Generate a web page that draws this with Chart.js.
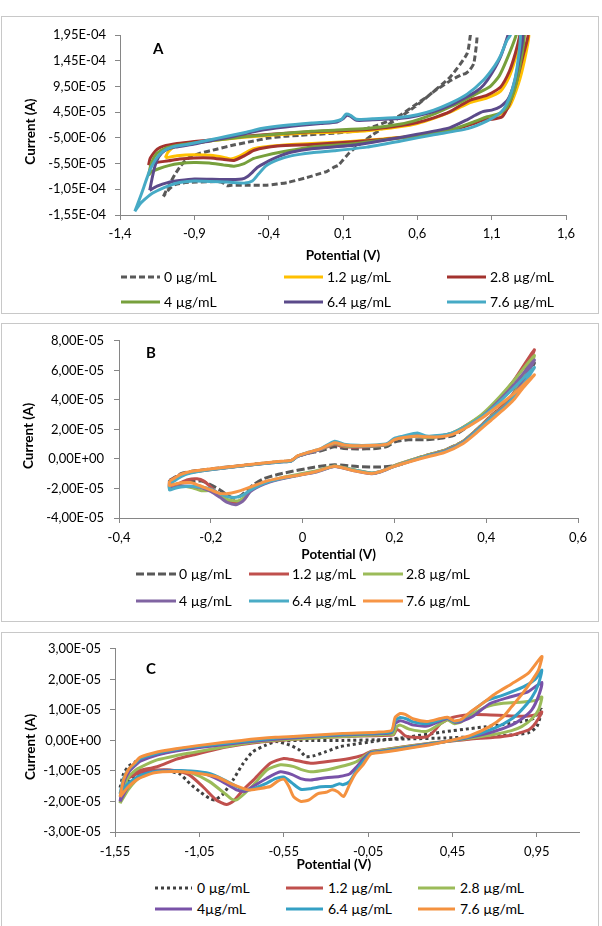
<!DOCTYPE html>
<html>
<head>
<meta charset="utf-8">
<script src="https://cdn.jsdelivr.net/npm/chart.js@4.4.1/dist/chart.umd.min.js"></script>
<style>
  body { margin: 0; background: #fff; }
  #page { position: relative; width: 602px; height: 926px; overflow: hidden; font-family: Lato, sans-serif; color: #000; }
  .panel { position: absolute; left: 1px; width: 598px; border: 1px solid #c8c8c8; box-sizing: border-box; background: #fff; }
  .box { position: absolute; left: 0; width: 602px; }
  .tag { position: absolute; font: bold 15px Lato, sans-serif; line-height: 15px; }
  .leg { position: absolute; display: flex; align-items: center; font-size: 14px; line-height: 18px; white-space: nowrap; }
  .leg svg { display: block; }
</style>
</head>
<body>
<div id="page">
  <div class="panel" style="top:16px;height:298px"></div>
  <div class="panel" style="top:323px;height:299px"></div>
  <div class="panel" style="top:632px;height:300px"></div>

  <div class="box" style="top:16px;height:250px"><canvas id="chartA" width="602" height="250"></canvas></div>
  <div class="box" style="top:323px;height:242px"><canvas id="chartB" width="602" height="242"></canvas></div>
  <div class="box" style="top:632px;height:243px"><canvas id="chartC" width="602" height="243"></canvas></div>

  <div class="tag" style="left:153px;top:41px">A</div>
  <div class="tag" style="left:146px;top:345px">B</div>
  <div class="tag" style="left:146px;top:661px">C</div>
</div>

<script>
// ---------- DATA (potential in V, current in units of 1E-05 A) ----------

// panel A
const A_0 = [[-1.108,-11.9],[-1.085,-10.5],[-1.063,-9.3],[-1.03,-7.6],[-0.996,-6.1],[-0.96,-4.9],[-0.928,-4.2],[-0.861,-3.5],[-0.75,-2.7],[-0.636,-1.9],[-0.5,-1.1],[-0.411,-0.6],[-0.3,-0.2],[-0.187,0.0],[0.038,0.4],[0.2,0.9],[0.308,1.7],[0.4,2.7],[0.487,3.95],[0.6,6.2],[0.666,7.5],[0.823,11.4],[0.935,15.9],[0.957,19.5],[0.98,23],
  [1.002,19.5],[0.98,14],[0.95,12.6],[0.923,12.0],[0.9,11.8],[0.83,10.75],[0.711,8.5],[0.6,5.9],[0.487,3.6],[0.4,2.0],[0.3,0.1],[0.2,-2.0],[0.14,-3.5],[0.1,-4.8],[0.07,-5.8],[0.04,-6.2],[-0.007,-7.0],[-0.05,-7.4],[-0.142,-8.2],[-0.276,-9.2],[-0.411,-9.7],[-0.524,-9.7],[-0.65,-9.7],[-0.681,-9.8],[-0.71,-9.2],[-0.75,-9.0],[-0.883,-9.1],[-0.96,-9.2],[-1.03,-9.6],[-1.07,-10.5],[-1.108,-11.9]];
const A_1_2 = [[-1.095,-4.4],[-1.08,-3.4],[-1.05,-2.5],[-1.0,-1.9],[-0.9,-1.5],[-0.8,-1.1],[-0.565,-0.4],[-0.34,0.1],[-0.11,0.5],[0.04,0.6],[0.26,0.9],[0.49,1.7],[0.6,2.3],[0.71,3.3],[0.82,4.5],[0.9,5.6],[0.96,6.4],[1.07,7.3],[1.16,8.6],[1.22,11.5],[1.26,15],[1.3,19.5],[1.32,24],
  [1.35,19.5],[1.32,14.5],[1.28,10],[1.22,5.6],[1.15,4.0],[1.0,2.7],[0.82,0.9],[0.6,-0.1],[0.37,-0.7],[0.15,-1.2],[-0.11,-1.6],[-0.34,-2.0],[-0.5,-2.6],[-0.55,-3.3],[-0.6,-4.1],[-0.655,-4.6],[-0.7,-4.3],[-0.79,-3.9],[-0.903,-3.8],[-1.016,-4.0],[-1.095,-4.4]];
const A_2_8 = [[-1.208,-5.8],[-1.197,-4.5],[-1.175,-3.5],[-1.15,-2.7],[-1.107,-2.1],[-1.016,-1.6],[-0.9,-1.2],[-0.79,-0.9],[-0.565,-0.2],[-0.34,0.3],[-0.11,0.7],[0.04,0.85],[0.26,1.1],[0.49,1.9],[0.6,2.5],[0.71,3.4],[0.82,4.6],[0.89,5.8],[0.96,6.9],[1.07,7.8],[1.16,9.4],[1.22,12.5],[1.26,16],[1.29,19.5],[1.32,24],
  [1.345,19.5],[1.315,15.9],[1.27,10.7],[1.215,5.8],[1.17,3.6],[1.1,3.1],[1.047,3.0],[0.98,2.3],[0.82,0.9],[0.6,-0.1],[0.37,-0.8],[0.15,-1.3],[-0.11,-1.8],[-0.34,-2.1],[-0.497,-2.9],[-0.565,-4.0],[-0.633,-4.9],[-0.7,-4.7],[-0.79,-4.4],[-0.903,-4.4],[-1.0,-4.6],[-1.073,-4.95],[-1.174,-5.4],[-1.208,-5.8]];
const A_4 = [[-1.208,-7.8],[-1.195,-6.0],[-1.175,-4.5],[-1.152,-3.5],[-1.1,-2.6],[-1.02,-2.0],[-0.9,-1.5],[-0.79,-1.05],[-0.565,-0.3],[-0.34,0.25],[-0.11,0.8],[0.04,1.0],[0.26,1.3],[0.49,2.2],[0.6,3.0],[0.71,4.1],[0.82,5.5],[0.9,6.6],[0.98,7.8],[1.09,9.5],[1.15,11.5],[1.2,14.6],[1.265,19.5],[1.29,23],
  [1.32,19.5],[1.29,13.5],[1.25,8.5],[1.2,5.3],[1.15,4.2],[1.07,3.6],[0.96,2.4],[0.82,1.0],[0.6,-0.1],[0.37,-0.9],[0.15,-1.7],[-0.11,-2.3],[-0.34,-3.4],[-0.42,-3.9],[-0.5,-4.5],[-0.565,-5.5],[-0.633,-6.0],[-0.7,-5.8],[-0.8,-5.4],[-0.903,-5.3],[-1.0,-5.5],[-1.073,-5.9],[-1.14,-6.5],[-1.19,-7.1],[-1.208,-7.8]];
const A_6_4 = [[-1.2,-10.7],[-1.185,-8.5],[-1.165,-6.0],[-1.14,-4.2],[-1.1,-3.0],[-1.03,-2.3],[-0.9,-1.7],[-0.78,-1.0],[-0.65,-0.3],[-0.5,0.7],[-0.35,1.4],[-0.2,1.9],[-0.05,2.3],[0.06,2.6],[0.1,3.2],[0.125,3.9],[0.15,3.7],[0.19,2.9],[0.3,3.0],[0.49,3.3],[0.6,3.8],[0.71,4.6],[0.82,5.8],[0.935,7.5],[1.0,8.6],[1.047,9.8],[1.1,12.0],[1.16,15.3],[1.21,19.5],[1.255,24],
  [1.31,19.5],[1.28,14],[1.25,10],[1.21,7.0],[1.16,5.6],[1.1,4.9],[1.04,4.6],[0.99,3.9],[0.94,3.1],[0.82,1.5],[0.6,0.2],[0.37,-1.0],[0.15,-2.0],[-0.11,-2.6],[-0.25,-3.3],[-0.34,-4.2],[-0.42,-5.3],[-0.475,-6.2],[-0.51,-7.2],[-0.542,-8.0],[-0.58,-8.5],[-0.7,-8.6],[-0.9,-8.5],[-1.0,-8.8],[-1.08,-9.2],[-1.15,-9.9],[-1.2,-10.7]];
const A_7_6 = [[-1.3,-14.8],[-1.27,-12.5],[-1.24,-10.1],[-1.21,-7.6],[-1.186,-6.0],[-1.15,-4.3],[-1.11,-3.1],[-1.05,-2.3],[-0.95,-1.8],[-0.8,-0.9],[-0.68,-0.2],[-0.55,0.6],[-0.45,1.3],[-0.3,1.9],[-0.11,2.4],[0.04,2.7],[0.09,3.1],[0.12,4.1],[0.15,3.9],[0.19,3.1],[0.3,3.2],[0.49,3.5],[0.6,4.0],[0.71,4.9],[0.82,6.2],[0.935,8.0],[1.047,10.8],[1.12,13.5],[1.16,15.5],[1.2,18.3],[1.226,19.5],[1.26,23],
  [1.293,19.5],[1.27,13],[1.24,9],[1.2,6],[1.16,4.4],[1.07,2.8],[0.94,1.3],[0.71,0.1],[0.49,-1.1],[0.26,-2.3],[0.04,-3.0],[-0.11,-3.4],[-0.25,-4.0],[-0.34,-4.8],[-0.42,-6.0],[-0.47,-7.6],[-0.51,-8.9],[-0.56,-9.3],[-0.68,-9.1],[-0.9,-8.9],[-1.0,-9.2],[-1.07,-9.8],[-1.13,-10.5],[-1.19,-11.4],[-1.24,-12.6],[-1.27,-13.5],[-1.3,-14.8]];

// panel B
const B_0 = [[-0.29,-1.45],[-0.265,-1.0],[-0.244,-0.85],[-0.193,-0.65],[-0.12,-0.4],[-0.047,-0.18],[-0.025,-0.12],[-0.01,0.18],[0.013,0.38],[0.04,0.55],[0.07,0.82],[0.09,0.7],[0.12,0.68],[0.16,0.7],[0.185,0.85],[0.2,1.15],[0.23,1.3],[0.27,1.3],[0.3,1.4],[0.33,1.6],[0.36,2.2],[0.39,2.9],[0.42,3.7],[0.46,5.0],[0.505,6.5],
  [0.48,5.2],[0.46,4.4],[0.44,3.7],[0.41,2.9],[0.38,2.0],[0.35,1.2],[0.31,0.6],[0.26,0.15],[0.21,-0.4],[0.17,-0.55],[0.12,-0.52],[0.07,-0.4],[0.025,-0.56],[-0.047,-1.0],[-0.084,-1.33],[-0.105,-1.7],[-0.12,-2.1],[-0.135,-2.5],[-0.149,-2.67],[-0.164,-2.45],[-0.18,-2.1],[-0.2,-1.75],[-0.22,-1.5],[-0.25,-1.55],[-0.275,-1.7],[-0.29,-1.7],[-0.29,-1.45]];
const B_1_2 = [[-0.29,-1.5],[-0.265,-1.05],[-0.244,-0.88],[-0.193,-0.68],[-0.12,-0.42],[-0.047,-0.18],[-0.025,-0.12],[-0.01,0.2],[0.013,0.42],[0.04,0.65],[0.07,1.0],[0.085,0.85],[0.1,0.8],[0.14,0.82],[0.18,0.95],[0.2,1.3],[0.22,1.45],[0.25,1.55],[0.27,1.45],[0.3,1.55],[0.325,1.75],[0.35,2.15],[0.39,2.95],[0.42,3.8],[0.46,5.3],[0.505,7.4],
  [0.48,5.6],[0.46,4.5],[0.44,3.7],[0.41,2.9],[0.38,2.0],[0.35,1.2],[0.31,0.6],[0.26,0.15],[0.2,-0.45],[0.17,-0.85],[0.15,-0.98],[0.11,-0.75],[0.07,-0.5],[0.03,-0.85],[-0.01,-1.1],[-0.05,-1.35],[-0.084,-1.65],[-0.113,-2.1],[-0.127,-2.75],[-0.142,-3.0],[-0.164,-2.85],[-0.18,-2.5],[-0.2,-1.9],[-0.215,-1.5],[-0.23,-1.35],[-0.25,-1.4],[-0.265,-1.6],[-0.28,-1.85],[-0.29,-1.9],[-0.29,-1.5]];
const B_2_8 = [[-0.29,-1.6],[-0.265,-1.1],[-0.244,-0.9],[-0.193,-0.68],[-0.12,-0.42],[-0.047,-0.18],[-0.025,-0.12],[-0.01,0.2],[0.013,0.42],[0.04,0.65],[0.07,1.05],[0.09,0.88],[0.12,0.85],[0.16,0.88],[0.185,0.98],[0.2,1.3],[0.22,1.45],[0.25,1.55],[0.27,1.45],[0.3,1.55],[0.325,1.75],[0.35,2.15],[0.39,3.0],[0.42,3.9],[0.46,5.3],[0.505,7.0],
  [0.48,5.4],[0.46,4.4],[0.44,3.6],[0.41,2.85],[0.38,2.0],[0.35,1.2],[0.31,0.6],[0.26,0.15],[0.2,-0.45],[0.17,-0.85],[0.15,-0.95],[0.11,-0.72],[0.07,-0.48],[0.03,-0.8],[-0.01,-1.05],[-0.05,-1.3],[-0.084,-1.6],[-0.113,-2.05],[-0.127,-2.6],[-0.142,-2.85],[-0.164,-2.75],[-0.18,-2.45],[-0.2,-2.15],[-0.22,-2.15],[-0.24,-1.95],[-0.265,-1.85],[-0.28,-1.95],[-0.29,-2.05],[-0.29,-1.6]];
const B_4 = [[-0.29,-1.65],[-0.265,-1.15],[-0.244,-0.92],[-0.193,-0.7],[-0.12,-0.43],[-0.047,-0.2],[-0.025,-0.14],[-0.01,0.18],[0.013,0.4],[0.04,0.65],[0.07,1.1],[0.09,0.92],[0.12,0.88],[0.16,0.9],[0.185,1.0],[0.2,1.35],[0.22,1.5],[0.25,1.6],[0.27,1.5],[0.3,1.55],[0.325,1.7],[0.35,2.05],[0.39,2.85],[0.42,3.7],[0.46,5.0],[0.505,6.7],
  [0.48,5.3],[0.46,4.3],[0.44,3.55],[0.41,2.8],[0.38,1.95],[0.35,1.15],[0.31,0.55],[0.26,0.1],[0.2,-0.5],[0.17,-0.88],[0.15,-1.0],[0.11,-0.78],[0.07,-0.52],[0.03,-0.88],[-0.01,-1.12],[-0.05,-1.38],[-0.084,-1.7],[-0.113,-2.2],[-0.13,-2.85],[-0.145,-3.1],[-0.164,-2.95],[-0.18,-2.6],[-0.2,-2.2],[-0.22,-1.95],[-0.245,-1.85],[-0.265,-1.85],[-0.28,-1.95],[-0.29,-2.0],[-0.29,-1.65]];
const B_6_4 = [[-0.29,-1.7],[-0.265,-1.2],[-0.244,-0.95],[-0.193,-0.7],[-0.12,-0.43],[-0.047,-0.2],[-0.025,-0.14],[-0.01,0.2],[0.013,0.45],[0.04,0.7],[0.07,1.2],[0.09,1.0],[0.12,0.92],[0.16,0.95],[0.185,1.05],[0.2,1.4],[0.22,1.55],[0.25,1.75],[0.27,1.55],[0.3,1.6],[0.325,1.75],[0.35,2.1],[0.39,2.85],[0.42,3.6],[0.46,4.8],[0.505,6.2],
  [0.48,5.0],[0.46,4.2],[0.44,3.5],[0.41,2.75],[0.38,1.9],[0.35,1.1],[0.31,0.5],[0.26,0.1],[0.2,-0.5],[0.17,-0.85],[0.15,-0.95],[0.11,-0.75],[0.07,-0.5],[0.03,-0.85],[-0.01,-1.1],[-0.05,-1.35],[-0.084,-1.65],[-0.113,-2.1],[-0.13,-2.45],[-0.145,-2.6],[-0.164,-2.55],[-0.18,-2.35],[-0.2,-2.05],[-0.22,-1.9],[-0.245,-1.85],[-0.265,-1.9],[-0.28,-2.0],[-0.29,-2.1],[-0.29,-1.7]];
const B_7_6 = [[-0.29,-1.5],[-0.265,-1.05],[-0.244,-0.85],[-0.193,-0.65],[-0.12,-0.4],[-0.047,-0.16],[-0.025,-0.1],[-0.01,0.22],[0.013,0.45],[0.04,0.7],[0.07,1.1],[0.09,0.95],[0.12,0.9],[0.16,0.92],[0.185,1.0],[0.2,1.3],[0.22,1.45],[0.25,1.55],[0.27,1.5],[0.3,1.5],[0.325,1.65],[0.35,2.0],[0.39,2.75],[0.42,3.45],[0.46,4.4],[0.505,5.7],
  [0.48,4.8],[0.46,4.0],[0.44,3.4],[0.41,2.6],[0.38,1.8],[0.35,1.05],[0.31,0.45],[0.26,0.05],[0.2,-0.5],[0.17,-0.85],[0.15,-0.98],[0.11,-0.78],[0.07,-0.5],[0.03,-0.85],[-0.01,-1.1],[-0.05,-1.3],[-0.084,-1.55],[-0.113,-1.9],[-0.135,-2.15],[-0.155,-2.3],[-0.178,-2.35],[-0.2,-2.1],[-0.225,-1.8],[-0.244,-1.6],[-0.265,-1.62],[-0.28,-1.72],[-0.29,-1.8],[-0.29,-1.5]];

// panel C
const C_0 = [[-1.52,-1.55],[-1.5,-1.1],[-1.47,-0.85],[-1.43,-0.7],[-1.4,-0.6],[-1.3,-0.45],[-1.19,-0.33],[-1.0,-0.18],[-0.8,-0.08],[-0.6,-0.02],[-0.4,0.0],[-0.2,0.0],[0.0,0.02],[0.2,0.05],[0.4,0.08],[0.6,0.12],[0.8,0.18],[0.9,0.25],[0.95,0.45],[0.98,1.02],
  [0.93,0.72],[0.86,0.62],[0.75,0.52],[0.65,0.45],[0.56,0.39],[0.4,0.28],[0.2,0.12],[0.0,-0.02],[-0.16,-0.15],[-0.22,-0.21],[-0.3,-0.37],[-0.37,-0.5],[-0.42,-0.53],[-0.456,-0.32],[-0.515,-0.15],[-0.594,-0.04],[-0.653,-0.15],[-0.733,-0.37],[-0.79,-0.75],[-0.851,-1.3],[-0.91,-1.76],[-0.96,-1.95],[-0.99,-1.9],[-1.048,-1.68],[-1.107,-1.41],[-1.17,-1.09],[-1.3,-0.98],[-1.4,-1.1],[-1.47,-1.3],[-1.52,-1.55]];
const C_1_2 = [[-1.49,-1.24],[-1.47,-1.15],[-1.43,-1.05],[-1.4,-0.98],[-1.3,-0.86],[-1.19,-0.62],[-1.09,-0.48],[-0.89,-0.22],[-0.7,-0.06],[-0.5,0.03],[-0.3,0.1],[-0.1,0.14],[0.08,0.17],[0.1,0.18],[0.12,0.36],[0.14,0.3],[0.17,0.15],[0.22,0.1],[0.3,0.12],[0.34,0.3],[0.38,0.55],[0.45,0.75],[0.55,0.84],[0.65,0.84],[0.8,0.8],[0.9,0.8],[0.95,0.85],[0.98,0.93],
  [0.96,0.72],[0.93,0.48],[0.9,0.34],[0.85,0.25],[0.8,0.17],[0.7,0.1],[0.55,0.04],[0.41,-0.04],[0.31,-0.1],[0.12,-0.24],[0.02,-0.32],[-0.034,-0.36],[-0.08,-0.48],[-0.16,-0.59],[-0.3,-0.7],[-0.39,-0.75],[-0.49,-0.64],[-0.55,-0.59],[-0.63,-0.75],[-0.73,-1.3],[-0.79,-1.62],[-0.85,-2.0],[-0.89,-2.1],[-0.95,-1.95],[-1.03,-1.51],[-1.11,-1.13],[-1.19,-0.99],[-1.3,-0.97],[-1.4,-1.05],[-1.46,-1.2],[-1.49,-1.24]];
const C_2_8 = [[-1.52,-2.06],[-1.5,-1.55],[-1.47,-1.2],[-1.43,-0.98],[-1.4,-0.88],[-1.3,-0.64],[-1.19,-0.5],[-1.09,-0.4],[-0.89,-0.2],[-0.7,-0.04],[-0.5,0.04],[-0.3,0.1],[-0.1,0.15],[0.08,0.2],[0.1,0.2],[0.12,0.45],[0.14,0.5],[0.2,0.36],[0.3,0.3],[0.38,0.55],[0.42,0.68],[0.46,0.55],[0.5,0.6],[0.55,0.8],[0.65,1.1],[0.75,1.22],[0.87,1.26],[0.95,1.32],[0.98,1.42],
  [0.96,1.0],[0.92,0.7],[0.86,0.45],[0.8,0.32],[0.7,0.2],[0.55,0.07],[0.41,-0.04],[0.31,-0.1],[0.12,-0.25],[0.02,-0.33],[-0.034,-0.38],[-0.08,-0.55],[-0.12,-0.7],[-0.16,-0.78],[-0.23,-0.88],[-0.3,-0.97],[-0.39,-1.03],[-0.45,-0.95],[-0.49,-0.86],[-0.57,-0.8],[-0.65,-0.97],[-0.73,-1.46],[-0.79,-1.78],[-0.83,-1.95],[-0.86,-1.92],[-0.89,-1.78],[-0.99,-1.35],[-1.09,-1.08],[-1.19,-0.99],[-1.3,-1.0],[-1.4,-1.2],[-1.47,-1.6],[-1.52,-2.06]];
const C_4 = [[-1.52,-2.0],[-1.5,-1.4],[-1.47,-1.05],[-1.43,-0.82],[-1.4,-0.68],[-1.3,-0.48],[-1.19,-0.35],[-1.0,-0.2],[-0.8,-0.07],[-0.6,0.04],[-0.4,0.12],[-0.2,0.18],[0.0,0.22],[0.09,0.26],[0.11,0.55],[0.14,0.64],[0.18,0.58],[0.22,0.5],[0.3,0.47],[0.38,0.64],[0.42,0.72],[0.46,0.6],[0.5,0.62],[0.57,0.78],[0.67,1.2],[0.79,1.42],[0.9,1.6],[0.98,1.9],
  [0.96,1.45],[0.92,1.0],[0.86,0.7],[0.8,0.5],[0.7,0.3],[0.55,0.1],[0.41,-0.04],[0.31,-0.12],[0.12,-0.28],[0.02,-0.36],[-0.034,-0.4],[-0.08,-0.62],[-0.12,-0.88],[-0.16,-1.1],[-0.22,-1.18],[-0.3,-1.22],[-0.39,-1.3],[-0.45,-1.25],[-0.5,-1.12],[-0.57,-1.03],[-0.65,-1.24],[-0.75,-1.57],[-0.78,-1.67],[-0.83,-1.62],[-0.93,-1.3],[-1.03,-1.08],[-1.19,-0.99],[-1.3,-1.0],[-1.4,-1.15],[-1.47,-1.5],[-1.52,-2.0]];
const C_6_4 = [[-1.52,-1.75],[-1.5,-1.25],[-1.47,-0.95],[-1.43,-0.75],[-1.4,-0.6],[-1.3,-0.42],[-1.19,-0.3],[-1.0,-0.16],[-0.8,-0.04],[-0.6,0.07],[-0.4,0.14],[-0.2,0.2],[0.0,0.24],[0.09,0.28],[0.11,0.65],[0.14,0.75],[0.18,0.7],[0.22,0.6],[0.3,0.55],[0.38,0.68],[0.42,0.74],[0.46,0.62],[0.5,0.66],[0.55,0.88],[0.65,1.3],[0.75,1.48],[0.87,1.75],[0.94,2.0],[0.98,2.3],
  [0.96,1.85],[0.92,1.4],[0.86,1.0],[0.8,0.7],[0.7,0.4],[0.55,0.12],[0.41,-0.04],[0.31,-0.13],[0.12,-0.3],[0.02,-0.38],[-0.034,-0.42],[-0.08,-0.7],[-0.12,-1.0],[-0.16,-1.35],[-0.2,-1.45],[-0.22,-1.42],[-0.26,-1.5],[-0.33,-1.52],[-0.39,-1.58],[-0.45,-1.6],[-0.5,-1.4],[-0.55,-1.2],[-0.6,-1.25],[-0.65,-1.4],[-0.75,-1.62],[-0.8,-1.58],[-0.83,-1.51],[-0.9,-1.3],[-0.99,-1.08],[-1.1,-1.0],[-1.2,-0.99],[-1.3,-1.02],[-1.4,-1.15],[-1.47,-1.4],[-1.52,-1.75]];
const C_7_6 = [[-1.52,-1.85],[-1.5,-1.3],[-1.47,-0.95],[-1.43,-0.72],[-1.4,-0.55],[-1.3,-0.38],[-1.19,-0.27],[-1.0,-0.13],[-0.8,0.0],[-0.6,0.1],[-0.4,0.16],[-0.2,0.23],[0.0,0.27],[0.09,0.33],[0.11,0.75],[0.14,0.88],[0.17,0.85],[0.22,0.7],[0.3,0.62],[0.38,0.72],[0.42,0.76],[0.46,0.64],[0.5,0.68],[0.55,0.9],[0.63,1.22],[0.71,1.55],[0.8,1.85],[0.9,2.2],[0.98,2.75],
  [0.96,2.3],[0.92,1.95],[0.86,1.5],[0.8,1.1],[0.75,0.77],[0.67,0.45],[0.55,0.15],[0.41,-0.04],[0.31,-0.15],[0.12,-0.32],[0.02,-0.4],[-0.034,-0.45],[-0.08,-0.8],[-0.126,-1.1],[-0.16,-1.45],[-0.195,-1.84],[-0.23,-1.68],[-0.263,-1.62],[-0.3,-1.7],[-0.35,-1.75],[-0.4,-1.95],[-0.447,-2.0],[-0.492,-1.84],[-0.52,-1.5],[-0.55,-1.27],[-0.59,-1.35],[-0.63,-1.51],[-0.7,-1.58],[-0.76,-1.62],[-0.85,-1.45],[-0.95,-1.19],[-1.088,-1.06],[-1.2,-1.02],[-1.316,-1.06],[-1.41,-1.25],[-1.477,-1.55],[-1.52,-1.85]];

const labelsA = ['0 µg/mL', '1.2 µg/mL', '2.8 µg/mL', '4 µg/mL', '6.4 µg/mL', '7.6 µg/mL'];
const labelsB = ['0 µg/mL', '1.2 µg/mL', '2.8 µg/mL', '4 µg/mL', '6.4 µg/mL', '7.6 µg/mL'];
const labelsC = ['0 µg/mL', '1.2 µg/mL', '2.8 µg/mL', '4µg/mL', '6.4 µg/mL', '7.6 µg/mL'];

// axis ticks (y ticks in units of 1E-05 A) and their printed labels
const xTicksA = [-1.4, -0.9, -0.4, 0.1, 0.6, 1.1, 1.6];
const xLabelsA = ['-1,4', '-0,9', '-0,4', '0,1', '0,6', '1,1', '1,6'];
const yTicksA = [-15.5, -10.5, -5.5, -0.5, 4.5, 9.5, 14.5, 19.5];
const yLabelsA = ['-1,55E-04', '-1,05E-04', '-5,50E-05', '-5,00E-06', '4,50E-05', '9,50E-05', '1,45E-04', '1,95E-04'];

const xTicksB = [-0.4, -0.2, 0, 0.2, 0.4, 0.6];
const xLabelsB = ['-0,4', '-0,2', '0', '0,2', '0,4', '0,6'];
const yTicksB = [-4, -2, 0, 2, 4, 6, 8];
const yLabelsB = ['-4,00E-05', '-2,00E-05', '0,00E+00', '2,00E-05', '4,00E-05', '6,00E-05', '8,00E-05'];

const xTicksC = [-1.55, -1.05, -0.55, -0.05, 0.45, 0.95];
const xLabelsC = ['-1,55', '-1,05', '-0,55', '-0,05', '0,45', '0,95'];
const yTicksC = [-3, -2, -1, 0, 1, 2, 3];
const yLabelsC = ['-3,00E-05', '-2,00E-05', '-1,00E-05', '0,00E+00', '1,00E-05', '2,00E-05', '3,00E-05'];

// ---------- STYLE ----------
const colorsA = ['#595959', '#FFC000', '#A3322E', '#77A03C', '#5B4A8A', '#46AAC5'];
const colorsB = ['#595959', '#C0504D', '#9BBB59', '#8064A2', '#4BACC6', '#F79646'];
const colorsC = ['#404040', '#C0504D', '#9BBB59', '#7952A8', '#34A0C4', '#F4913F'];
const dashA = [[6, 3], [], [], [], [], []];
const dashB = [[8, 3], [], [], [], [], []];
const dashC = [[3, 3], [], [], [], [], []];

const tickFont = { family: 'Lato', size: 13 };
const titleFont = { family: 'Lato', size: 13.5, weight: 'bold' };
const axisColor = '#868686';

function makeChart(id, c) {
  const datasets = c.series.map((pts, i) => ({
    label: c.labels[i],
    data: pts.map(p => ({ x: p[0], y: p[1] })),
    showLine: true,
    borderColor: c.colors[i],
    backgroundColor: c.colors[i],
    borderWidth: 3,
    borderDash: c.dashes[i],
    pointRadius: 0,
    tension: 0.2,
    order: c.series.length - i
  }));

  return new Chart(document.getElementById(id), {
    type: 'scatter',
    data: { datasets },
    options: {
      responsive: false,
      animation: false,
      layout: { padding: { top: c.padTop, right: c.padRight, bottom: 0, left: 0 } },
      plugins: { legend: { display: false }, tooltip: { enabled: false } },
      scales: {
        x: {
          type: 'linear', min: c.xMin, max: c.xMax,
          afterBuildTicks: s => { s.ticks = c.xTicks.map(v => ({ value: v })); },
          afterFit: s => { s.height = c.xHeight; },
          ticks: { callback: (v, i) => c.xLabels[i], padding: c.xPad, color: '#000', font: tickFont, autoSkip: false, maxRotation: 0 },
          grid: { drawOnChartArea: false, drawTicks: true, tickLength: 5, color: axisColor },
          border: { color: axisColor },
          title: { display: true, text: c.xTitle, color: '#000', font: titleFont, padding: { top: 0, bottom: 2 } }
        },
        y: {
          type: 'linear', min: c.yMin, max: c.yMax,
          afterBuildTicks: s => { s.ticks = c.yTicks.map(v => ({ value: v })); },
          afterFit: s => { s.width = c.yWidth; },
          ticks: { callback: (v, i) => c.yLabels[i], padding: c.yPad, color: '#000', font: tickFont },
          grid: { drawOnChartArea: false, drawTicks: true, tickLength: 5, color: axisColor },
          border: { color: axisColor },
          title: { display: true, text: 'Current (A)    ', color: '#000', font: titleFont, padding: { top: c.yTitlePad, bottom: 0 } }
        }
      }
    }
  });
}

makeChart('chartA', {
  series: [A_0, A_1_2, A_2_8, A_4, A_6_4, A_7_6], labels: labelsA, colors: colorsA, dashes: dashA,
  xMin: -1.4, xMax: 1.6, yMin: -15.5, yMax: 19.5,
  xTicks: xTicksA, xLabels: xLabelsA, yTicks: yTicksA, yLabels: yLabelsA,
  padTop: 19, padRight: 36, xHeight: 51, yWidth: 120, xPad: 6, yPad: 9, yTitlePad: 23,
  xTitle: 'Potential (V)'
});
makeChart('chartB', {
  series: [B_0, B_1_2, B_2_8, B_4, B_6_4, B_7_6], labels: labelsB, colors: colorsB, dashes: dashB,
  xMin: -0.4, xMax: 0.6, yMin: -4, yMax: 8,
  xTicks: xTicksB, xLabels: xLabelsB, yTicks: yTicksB, yLabels: yLabelsB,
  padTop: 17, padRight: 24, xHeight: 47, yWidth: 119, xPad: 7, yPad: 10, yTitlePad: 21,
  xTitle: 'Potential (V)      '
});
makeChart('chartC', {
  series: [C_0, C_1_2, C_2_8, C_4, C_6_4, C_7_6], labels: labelsC, colors: colorsC, dashes: dashC,
  xMin: -1.55, xMax: 1.2, yMin: -3, yMax: 3,
  xTicks: xTicksC, xLabels: xLabelsC, yTicks: yTicksC, yLabels: yLabelsC,
  padTop: 16, padRight: 23, xHeight: 43, yWidth: 115, xPad: 7, yPad: 9, yTitlePad: 23,
  xTitle: 'Potential (V)        '
});

// ---------- LEGENDS (html, below each chart) ----------
const page = document.getElementById('page');
function buildLegend(labels, colors, dashes, cols, len, gap, rows) {
  labels.forEach((txt, i) => {
    const el = document.createElement('div');
    el.className = 'leg';
    el.style.left = cols[i % 3] + 'px';
    el.style.top = (rows[Math.floor(i / 3)] - 9) + 'px';
    el.innerHTML =
      '<svg width="' + len + '" height="6"><line x1="0" y1="3" x2="' + len + '" y2="3" stroke="' + colors[i] +
      '" stroke-width="3" stroke-dasharray="' + dashes[i].join(',') + '"/></svg>' +
      '<span style="margin-left:' + gap + 'px">' + txt + '</span>';
    page.appendChild(el);
  });
}
buildLegend(labelsA, colorsA, dashA, [121, 284, 447], 39, 4, [277, 302]);
buildLegend(labelsB, colorsB, dashB, [136, 249, 363], 40, 3, [574, 601]);
buildLegend(labelsC, colorsC, dashC, [155, 286, 418], 37, 5, [888, 909]);
</script>
</body>
</html>
